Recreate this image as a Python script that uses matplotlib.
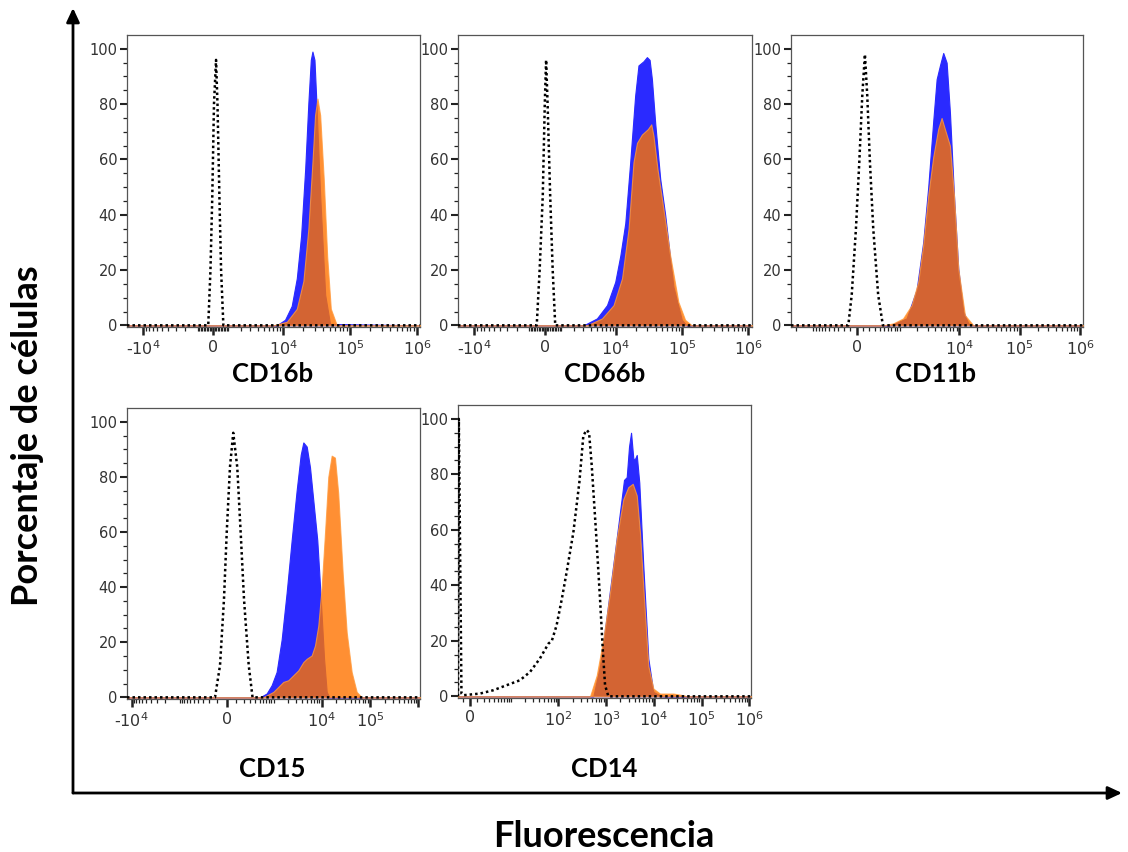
import matplotlib.pyplot as plt
import numpy as np
from matplotlib.patches import FancyArrowPatch

plt.rcParams['font.family'] = ['DejaVu Sans']

# marker names (panel titles)
markers = ['CD16b', 'CD66b', 'CD11b', 'CD15', 'CD14']

# CD16b
cd16b_ctrl_x = [-300, -160, -45, 60, 190, 280, 400, 510, 660]
cd16b_ctrl_y = [0, 20, 47, 80, 96, 80, 47, 20, 0]
cd16b_blue_x = [8000, 10700, 13500, 16100, 18700, 21500, 24000, 26100, 27600, 29600, 31300, 36000, 42800, 50600]
cd16b_blue_y = [0, 2, 7, 17, 32.5, 56.5, 80.5, 96, 99, 96, 83, 47, 11, 0.5]
cd16b_orng_x = [7100, 11400, 16100, 20200, 24000, 27600, 30200, 32800, 36000, 40700, 45800, 51900, 63900]
cd16b_orng_y = [0, 1.3, 6, 16, 35, 59, 76, 82, 76, 53, 25, 6, 0]

# CD66b
cd66b_ctrl_x = [-510, -330, -140, -20, 60, 150, 305, 460, 620]
cd66b_ctrl_y = [0, 20, 47, 80, 96, 80, 47, 20, 0]
cd66b_blue_x = [3060, 5070, 7300, 9770, 11700, 13900, 16500, 19600, 22000, 26200, 29500, 32400, 35100, 39400,
                46800, 55600, 74000, 99000, 117000]
cd66b_blue_y = [0, 2.5, 7.3, 15.7, 25.3, 37, 59, 83, 94, 95.5, 97, 96, 89, 73, 53, 40, 14, 2, 0]
cd66b_orng_x = [3500, 6100, 9200, 12400, 15600, 18500, 20900, 24800, 30600, 34300, 37100, 42600, 52400, 66100,
                87800, 111000, 140000]
cd66b_orng_y = [0, 2.5, 7.3, 17, 35, 59, 66, 69, 71, 72.7, 68.5, 56.5, 42, 25.3, 8.5, 2, 0]

# CD11b
cd11b_ctrl_x = [-130, -76, -11, 40, 86, 128, 166, 211, 270, 366, 470]
cd11b_ctrl_y = [0, 11, 35, 59, 83, 98, 83, 59, 35, 11, 0]
cd11b_blue_x = [653, 1310, 1950, 2510, 3050, 3700, 4210, 4780, 5420, 6170, 7000, 8170, 9620, 11700, 14100, 17100]
cd11b_blue_y = [0, 2.5, 13, 30, 50, 74, 89, 94, 98.5, 95, 77, 47, 20.5, 5, 0.7, 0]
cd11b_orng_x = [478, 756, 1140, 1600, 2070, 2510, 3050, 3700, 4470, 5090, 5770, 7000, 8170, 9620, 12400, 17100]
cd11b_orng_y = [0, 0.7, 2.5, 7.3, 15.7, 29, 47, 61, 71, 75, 71, 65, 47, 20.5, 3.7, 0]

# CD15
cd15_ctrl_x = [-127, -70, -28, 0, 34, 69, 114, 156, 200, 272, 340]
cd15_ctrl_y = [0, 11.6, 35.6, 59.5, 83.5, 96, 83.5, 59.5, 35.6, 11.6, 0]
cd15_blue_x = [506, 713, 910, 1160, 1480, 1880, 2390, 3030, 3680, 4170, 4900, 5730, 6710, 8110, 8920, 10000,
               11200, 12700, 14400]
cd15_blue_y = [0, 1.4, 4.4, 9.2, 21, 38, 57, 75, 88, 92.5, 91, 83.5, 71.5, 57, 45, 29.6, 14, 2, 0]
cd15_orng_x = [600, 990, 1600, 2030, 2580, 3280, 4170, 4900, 6210, 7270, 8510, 10000, 11700, 13700, 16100, 18800,
               22000, 27200, 32900, 41700, 52900, 67300]
cd15_orng_y = [0, 2, 5.6, 6.2, 8, 9.8, 12.8, 14, 15.2, 18.8, 26, 40, 59.5, 80, 87.7, 87, 74, 45, 23.6, 9.2, 2, 0]

# CD14
cd14_ctrl_x = [-1.6, -1.2, -0.93, 1.42, 3.9, 8.0, 15.6, 25.5, 41, 62, 73, 92, 118, 150, 206, 275, 334, 393, 440,
               501, 616, 747, 851, 951, 1115]
cd14_ctrl_y = [100, 1, 0.4, 1, 2.2, 4, 5.8, 8.8, 13.6, 19, 20, 25.6, 35, 45, 59, 77, 94, 96, 95, 83, 59, 35, 17,
               4, 0]
cd14_blue_x = [541, 747, 1030, 1665, 2110, 2370, 2700, 3020, 3330, 3720, 4040, 4380, 4950, 6010, 7650, 9740,
               13400, 15800]
cd14_blue_y = [0, 11, 29, 57, 71, 78, 79, 90, 95, 85.6, 85.6, 87, 77, 47, 13.6, 1.6, 0.3, 0]
cd14_orng_x = [461, 637, 877, 1210, 1665, 2290, 2910, 3610, 4380, 5120, 6230, 7650, 9740, 13400, 25500, 41000,
               48700]
cd14_orng_y = [0, 7.6, 20.8, 37.6, 56.8, 71, 75.4, 76.6, 72.4, 59, 35, 11, 2.8, 1, 1, 0.4, 0]

# axis scale settings per panel (asinh / biexponential-like)
lin_widths = [1820, 1730, 400, 217, 2.83]
x_limits = [(-17400, 1.11e6), (-17700, 1.13e6), (-2430, 1.12e6), (-12500, 1.08e6), (-1.73, 1.08e6)]
tick_vals = [[-1e4, 0, 1e4, 1e5, 1e6], [-1e4, 0, 1e4, 1e5, 1e6], [0, 1e4, 1e5, 1e6],
             [-1e4, 0, 1e4, 1e5, 1e6], [0, 1e2, 1e3, 1e4, 1e5, 1e6]]
tick_labels = [['-10$^{4}$', '0', '10$^{4}$', '10$^{5}$', '10$^{6}$'],
               ['-10$^{4}$', '0', '10$^{4}$', '10$^{5}$', '10$^{6}$'],
               ['0', '10$^{4}$', '10$^{5}$', '10$^{6}$'],
               ['-10$^{4}$', '0', '10$^{4}$', '10$^{5}$', ''],
               ['0', '10$^{2}$', '10$^{3}$', '10$^{4}$', '10$^{5}$', '10$^{6}$']]

ctrl = [(cd16b_ctrl_x, cd16b_ctrl_y), (cd66b_ctrl_x, cd66b_ctrl_y), (cd11b_ctrl_x, cd11b_ctrl_y),
        (cd15_ctrl_x, cd15_ctrl_y), (cd14_ctrl_x, cd14_ctrl_y)]
blue = [(cd16b_blue_x, cd16b_blue_y), (cd66b_blue_x, cd66b_blue_y), (cd11b_blue_x, cd11b_blue_y),
        (cd15_blue_x, cd15_blue_y), (cd14_blue_x, cd14_blue_y)]
orng = [(cd16b_orng_x, cd16b_orng_y), (cd66b_orng_x, cd66b_orng_y), (cd11b_orng_x, cd11b_orng_y),
        (cd15_orng_x, cd15_orng_y), (cd14_orng_x, cd14_orng_y)]

W, H = 1128, 852
fig = plt.figure(figsize=(W / 100, H / 100), dpi=100)

# panel boxes in pixels: left, top, right, bottom
boxes = [(127, 35, 420, 327), (458, 35, 752, 327), (791, 35, 1083, 327),
         (127, 408, 420, 699), (458, 405, 751, 698)]
title_pos = [(273, 382), (605, 382), (935, 382), (272, 777), (604, 777)]


def extend(xs, ys, lim):
    # pad series with empty bins out to the axis ends
    return np.r_[lim[0], xs, lim[1]], np.r_[0, ys, 0]


for i in range(5):
    l, t, r, b = boxes[i]
    ax = fig.add_axes([l / W, 1 - b / H, (r - l) / W, (b - t) / H])
    ax.set_xscale('asinh', linear_width=lin_widths[i])
    lim = x_limits[i]

    bx, by = extend(blue[i][0], blue[i][1], lim)
    ax.fill_between(bx, by, 0, color='#2a2aff', lw=0.8, zorder=2)
    ox, oy = extend(orng[i][0], orng[i][1], lim)
    ax.fill_between(ox, oy, 0, facecolor='#ff7300', edgecolor='#ff9a3c', alpha=0.8, lw=0.8, zorder=3)
    cx, cy = extend(ctrl[i][0], ctrl[i][1], lim)
    ax.plot(cx, cy, color='black', ls=(0, (1, 1.2)), lw=1.8, zorder=4)

    ax.set_xlim(lim)
    ax.set_ylim(-0.6, 105)

    ax.set_xticks(tick_vals[i], tick_labels[i])
    minors = []
    start = 0 if i == 4 else 2
    for n in range(start, 6):
        for m in range(1, 10):
            for s in (-1, 1):
                v = s * m * 10 ** n
                if lim[0] < v < lim[1] and v not in tick_vals[i]:
                    minors.append(v)
    ax.set_xticks(minors, minor=True)
    ax.set_yticks([0, 20, 40, 60, 80, 100])
    ax.set_yticks(np.arange(0, 105, 5), minor=True)

    ax.tick_params(axis='x', which='major', length=6, width=1.8, color='#222222',
                   labelsize=11.5, labelcolor='#333333', pad=3)
    ax.tick_params(axis='x', which='minor', length=3, width=0.9, color='#222222')
    ax.tick_params(axis='y', which='major', length=5, width=1.5, color='#222222',
                   labelsize=10.5, labelcolor='#333333', pad=2)
    ax.tick_params(axis='y', which='minor', length=3, width=0.9, color='#222222')
    for sp in ax.spines.values():
        sp.set_color('#555555')
        sp.set_linewidth(0.9)

    tx, ty = title_pos[i]
    fig.text(tx / W, 1 - ty / H, markers[i], ha='center', va='baseline',
             fontsize=18.5, fontweight='bold', family=['Lato', 'DejaVu Sans'])

# big axes arrows
ox0, oy0 = 73 / W, 1 - 793 / H
style = '-|>,head_length=0.6,head_width=0.28'
fig.add_artist(FancyArrowPatch((ox0, oy0), (ox0, 1 - 8 / H), transform=fig.transFigure,
                               arrowstyle=style, mutation_scale=14, lw=2, color='black',
                               shrinkA=0, shrinkB=0))
fig.add_artist(FancyArrowPatch((ox0, oy0), (1122 / W, oy0), transform=fig.transFigure,
                               arrowstyle=style, mutation_scale=14, lw=2, color='black',
                               shrinkA=0, shrinkB=0))

fig.text(604 / W, 1 - 847 / H, 'Fluorescencia', ha='center', va='baseline',
         fontsize=26, fontweight='bold', family=['Lato', 'DejaVu Sans'])
fig.text(28 / W, 1 - 436 / H, 'Porcentaje de células', ha='center', va='center', rotation=90,
         fontsize=26, fontweight='bold', family=['Lato', 'DejaVu Sans'])

fig.savefig('out.png', dpi=100)
